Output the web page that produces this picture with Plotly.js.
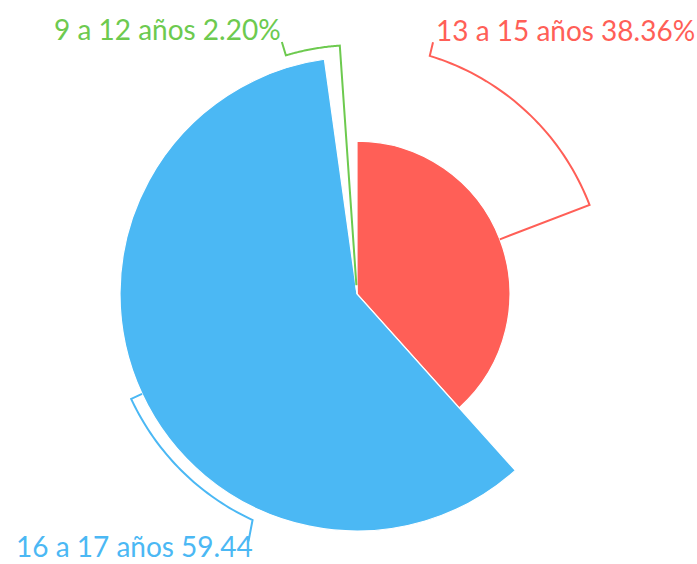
<!DOCTYPE html>
<html>
<head>
<meta charset="utf-8">
<script src="https://cdn.plot.ly/plotly-3.0.1.min.js"></script>
<style>html,body{margin:0;padding:0;background:#fff;}#chart{width:697px;height:564px;}</style>
</head>
<body>
<div id="chart"></div>
<script>
// ---- data ----
const categories = ["13 a 15 años", "16 a 17 años", "9 a 12 años"];
const values = [38.36, 59.44, 2.20];
const labelTexts = ["13 a 15 años 38.36%", "16 a 17 años 59.44", "9 a 12 años 2.20%"];
const colors = ["#ff5f57", "#4bb8f4", "#6dca4f"];

// ---- geometry (layout constants) ----
const W = 697, H = 564;
const cx = 357, cy = 294, polarRpx = 270;
const maxSlicePx = 237;
const rangeMax = Math.max(...values) * polarRpx / maxSlicePx;
const toUnits = px => px * rangeMax / polarRpx;

const total = values.reduce((a, b) => a + b, 0);
let cum = 0;
const thetas = [], widths = [];
values.forEach(v => {
  const w = v / total * 360;
  thetas.push(cum + w / 2);
  widths.push(w);
  cum += w;
});

const traces = [{
  type: "barpolar",
  r: values,
  theta: thetas,
  width: widths,
  marker: { color: colors, line: { color: "#ffffff", width: 1.2 } },
  hoverinfo: "skip",
  showlegend: false
}];

// leader lines: radial out, arc counter-clockwise, then outward tick
const leadR = toUnits(249);
const arcEnd = [17.0, 204.8, 343.4];
const tickEnd = [[toUnits(263), 16.8], [toUnits(272), 203.6], [toUnits(263), 343.4]];
values.forEach((v, i) => {
  const r = [v], th = [thetas[i]];
  const steps = 40;
  for (let k = 0; k <= steps; k++) {
    r.push(leadR);
    th.push(thetas[i] + (arcEnd[i] - thetas[i]) * k / steps);
  }
  r.push(tickEnd[i][0]); th.push(tickEnd[i][1]);
  traces.push({
    type: "scatterpolar", mode: "lines", r: r, theta: th,
    line: { color: colors[i], width: 2 },
    cliponaxis: false, hoverinfo: "skip", showlegend: false
  });
});

const labelPos = [[434, 30], [14, 546], [52, 29]];
const annotations = labelTexts.map((t, i) => ({
  text: t, xref: "paper", yref: "paper",
  x: labelPos[i][0] / W, y: (H - labelPos[i][1]) / H,
  xanchor: "left", yanchor: "middle", showarrow: false,
  font: { family: "Lato, sans-serif", size: 28, color: colors[i] }
}));

const layout = {
  width: W, height: H,
  margin: { l: 0, r: 0, t: 0, b: 0 },
  paper_bgcolor: "#ffffff",
  showlegend: false,
  polar: {
    domain: { x: [(cx - polarRpx) / W, (cx + polarRpx) / W], y: [(H - cy - polarRpx) / H, (H - cy + polarRpx) / H] },
    bgcolor: "rgba(0,0,0,0)",
    barmode: "overlay",
    angularaxis: { rotation: 90, direction: "clockwise", visible: false, showgrid: false, showline: false, showticklabels: false, ticks: "" },
    radialaxis: { range: [0, rangeMax], visible: false, showgrid: false, showline: false, showticklabels: false, ticks: "" }
  },
  annotations: annotations
};

Plotly.newPlot("chart", traces, layout, { displayModeBar: false, staticPlot: true });
</script>
</body>
</html>
